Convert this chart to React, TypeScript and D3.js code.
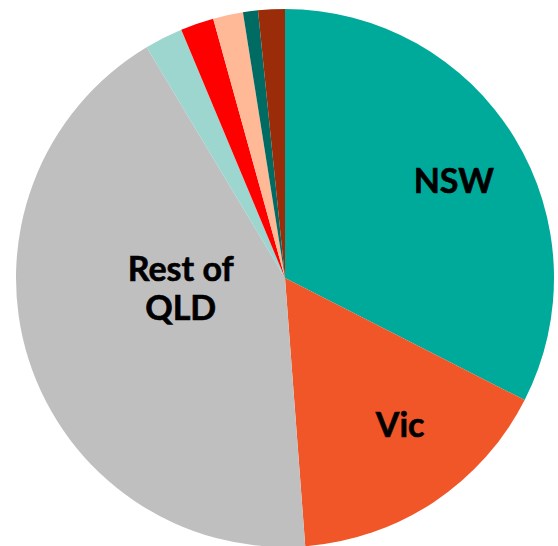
import React from "react";
import * as d3 from "d3";

const categories = ["NSW", "Vic", "Rest of QLD", "Other 1", "Other 2", "Other 3", "Other 4", "Other 5"];
const values = [32.5, 16.3, 42.6, 2.3, 2.0, 1.8, 0.9, 1.6];
const colors = ["#00AA9A", "#F05627", "#BFBFBF", "#9DD5CF", "#FF0000", "#FFB997", "#006B62", "#9A2C0A"];
const labelLines = [["NSW"], ["Vic"], ["Rest of", "QLD"], [], [], [], [], []];

const W = 558;
const H = 546;
const cx = 285;
const cy = 278;
const R = 269;

// label placement: [angle in degrees clockwise from top, radius fraction]
const labelPos: [number, number][] = [
  [60, 0.725],
  [142, 0.695],
  [264, 0.39],
];

export default function App() {
  const pie = d3.pie<number>().sort(null).value((d) => d);
  const arcs = pie(values);
  const arc = d3.arc<d3.PieArcDatum<number>>().innerRadius(0).outerRadius(R);
  return (
    <svg width={W} height={H} style={{ position: "absolute", left: 0, top: 0 }}>
      <g transform={`translate(${cx},${cy})`}>
        {arcs.map((a, i) => (
          <path key={i} d={arc(a) || ""} fill={colors[i]} />
        ))}
        {labelPos.map(([ang, rf], i) => {
          const t = (ang * Math.PI) / 180;
          const x = Math.sin(t) * rf * R;
          const y = -Math.cos(t) * rf * R;
          const lines = labelLines[i];
          const lh = 39;
          const y0 = y - ((lines.length - 1) * lh) / 2 + 12;
          return (
            <text
              key={categories[i]}
              x={x}
              y={y0}
              textAnchor="middle"
              fontFamily="Lato, 'Open Sans', sans-serif"
              fontWeight="bold"
              fontSize={34}
              fill="#000"
              stroke="#000"
              strokeWidth={0.6}
            >
              {lines.map((l, j) => (
                <tspan key={j} x={x} y={y0 + j * lh}>
                  {l}
                </tspan>
              ))}
            </text>
          );
        })}
      </g>
    </svg>
  );
}
